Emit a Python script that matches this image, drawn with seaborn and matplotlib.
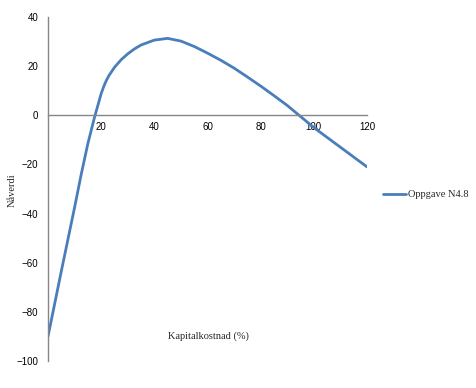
import pandas as pd
import matplotlib.pyplot as plt
import seaborn as sns

# kapitalkostnad (%) og naaverdi lest av figuren
rate = [0, 5, 10, 12.5, 15, 17.5, 20, 21, 22, 23, 25, 27.5, 30, 32.5, 35,
        40, 45, 50, 55, 60, 65, 70, 75, 80, 85, 90, 95, 100, 105, 110, 115, 120]
npv = [-90, -63.5, -37.5, -24, -11.5, -0.8, 8.8, 11.8, 14.3, 16.3, 19.5, 22.6,
       25, 27, 28.6, 30.6, 31.3, 30.2, 28, 25.3, 22.4, 19.2, 15.6, 11.9, 8, 4,
       -0.5, -5, -9, -13, -17, -21]
series_name = "Oppgave N4.8"
xticks = [20, 40, 60, 80, 100, 120]
yticks = [-100, -80, -60, -40, -20, 0, 20, 40]

df = pd.DataFrame({"Kapitalkostnad": rate, "Nåverdi": npv, "serie": series_name})

sns.set_style("white")
serif = ["Liberation Serif", "DejaVu Serif"]
sans = ["Liberation Sans", "DejaVu Sans"]
plt.rcParams["font.family"] = sans

fig = plt.figure(figsize=(4.77, 3.88), dpi=100)
ax = fig.add_axes([48 / 477, (388 - 361) / 388, (367 - 48) / 477, (361 - 17) / 388])

sns.lineplot(data=df, x="Kapitalkostnad", y="Nåverdi", hue="serie",
             palette=["#4a7ebb"], linewidth=2.0, ax=ax)
ax.lines[0].set_solid_joinstyle("round")

ax.set_xlim(0, 120)
ax.set_ylim(-100, 40)
ax.set_xticks(xticks)
ax.set_yticks(yticks)

grey = "#868686"
for side in ["top", "right"]:
    ax.spines[side].set_visible(False)
ax.spines["bottom"].set_position(("data", 0))
ax.spines["bottom"].set_color(grey)
ax.spines["left"].set_color(grey)
ax.spines["bottom"].set_linewidth(1)
ax.spines["left"].set_linewidth(1)
ax.tick_params(axis="both", colors=grey, labelcolor="black", labelsize=7,
               direction="out", length=4, width=1, pad=3)
ax.tick_params(axis="x", pad=1)

ax.set_xlabel("")
ax.set_ylabel("")
fig.text(208 / 477, 1 - 336 / 388, "Kapitalkostnad (%)", family=serif,
         fontsize=7.5, ha="center", va="center")
fig.text(12 / 477, 1 - 190 / 388, "Nåverdi", family=serif, fontsize=7.5,
         rotation=90, ha="center", va="center")

leg = ax.legend(loc="center left", bbox_to_anchor=(1.02, 0.483), frameon=False,
                handlelength=2.2, handletextpad=0.2, prop={"family": serif, "size": 7.5})

fig.savefig("out.png", dpi=100, facecolor="white")
